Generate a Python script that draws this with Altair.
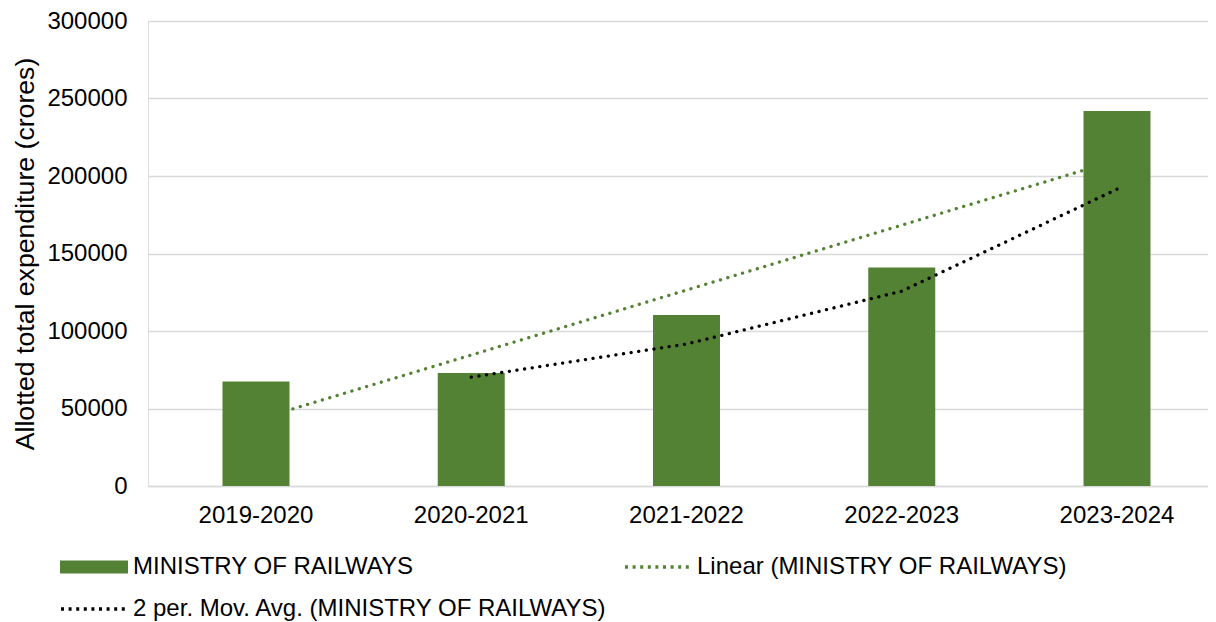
import altair as alt
import pandas as pd

categories = ["2019-2020", "2020-2021", "2021-2022", "2022-2023", "2023-2024"]
bar_values = [67500, 72900, 110300, 141000, 241900]
linear_values = [42600, 84500, 126400, 168300, 210200]
ma_categories = ["2020-2021", "2021-2022", "2022-2023", "2023-2024"]
ma_values = [70200, 91600, 125700, 191500]
y_ticks = [0, 50000, 100000, 150000, 200000, 250000, 300000]
series_names = [
    "MINISTRY OF RAILWAYS",
    "Linear (MINISTRY OF RAILWAYS)",
    "2 per. Mov. Avg. (MINISTRY OF RAILWAYS)",
]

FONT = "Liberation Sans"
GREEN = "#548235"
DOTS = [0.1, 7.6]
LEGEND_DOTS = [3, 4.6]

bars_df = pd.DataFrame({"year": categories, "value": bar_values, "s1": series_names[0]})
lin_df = pd.DataFrame({"year": categories, "value": linear_values, "s2": series_names[1]})
ma_df = pd.DataFrame({"year": ma_categories, "value": ma_values, "s3": series_names[2]})

x_scale = alt.Scale(domain=categories, paddingInner=0.6887, paddingOuter=0.3066, align=0.5644)
x_enc = alt.X(
    "year:N",
    scale=x_scale,
    sort=categories,
    axis=alt.Axis(
        title=None,
        labelAngle=0,
        labelFontSize=24,
        labelFont=FONT,
        labelColor="#000000",
        labelPadding=17,
        ticks=False,
        tickSize=0,
        domainColor="#d9d9d9",
        domainWidth=1.5,
        grid=False,
    ),
)
y_enc = alt.Y(
    "value:Q",
    scale=alt.Scale(domain=[0, 300000], nice=False),
    axis=alt.Axis(
        title="Allotted total expenditure (crores)",
        titleFontSize=26.67,
        titleFont=FONT,
        titleFontWeight="normal",
        titleColor="#000000",
        titlePadding=7,
        values=y_ticks,
        format="d",
        labelFontSize=24,
        labelFont=FONT,
        labelColor="#000000",
        labelPadding=21,
        ticks=False,
        tickSize=0,
        domain=False,
        grid=True,
        gridColor="#d9d9d9",
        gridWidth=1.5,
    ),
)

RECT = "M-1,-0.65H5.8V0.65H-1Z"
LINE = "M-0.9,0H5.8"


def legend_at(x, y, shape, **kw):
    return alt.Legend(
        title=None,
        orient="none",
        legendX=x,
        legendY=y,
        padding=0,
        labelFontSize=24,
        labelFont=FONT,
        labelColor="#000000",
        labelLimit=1000,
        labelOffset=51,
        symbolSize=400,
        symbolType=shape,
        **kw,
    )


linear = alt.Chart(lin_df).mark_line(
    strokeWidth=3.3, strokeDash=DOTS, strokeCap="round"
).encode(
    x=x_enc,
    y=y_enc,
    stroke=alt.Stroke(
        "s2:N",
        scale=alt.Scale(domain=[series_names[1]], range=[GREEN]),
        legend=legend_at(474, 534, LINE, symbolStrokeWidth=3.3, symbolDash=LEGEND_DOTS),
    ),
)

bars = alt.Chart(bars_df).mark_bar().encode(
    x=x_enc,
    y=y_enc,
    fill=alt.Fill(
        "s1:N",
        scale=alt.Scale(domain=[series_names[0]], range=[GREEN]),
        legend=legend_at(-90, 534, RECT, symbolStrokeWidth=0),
    ),
)

ma = alt.Chart(ma_df).mark_line(
    color="#000000", strokeWidth=3.3, strokeCap="round", strokeDash=DOTS, interpolate="linear"
).encode(
    x=x_enc,
    y=y_enc,
    opacity=alt.Opacity(
        "s3:N",
        scale=alt.Scale(domain=[series_names[2]], range=[1]),
        legend=legend_at(
            -90, 576, LINE,
            symbolStrokeWidth=3.3,
            symbolStrokeColor="#000000",
            symbolDash=LEGEND_DOTS,
        ),
    ),
)

chart = alt.layer(linear, bars, ma).properties(
    width=1060,
    height=465,
    autosize=alt.AutoSizeParams(type="none"),
    padding={"left": 140, "top": 13, "right": 0, "bottom": 140},
).configure_view(stroke=None).configure(font=FONT, background="#ffffff")

chart.save("out.html", embed_options={"renderer": "svg", "actions": False})
